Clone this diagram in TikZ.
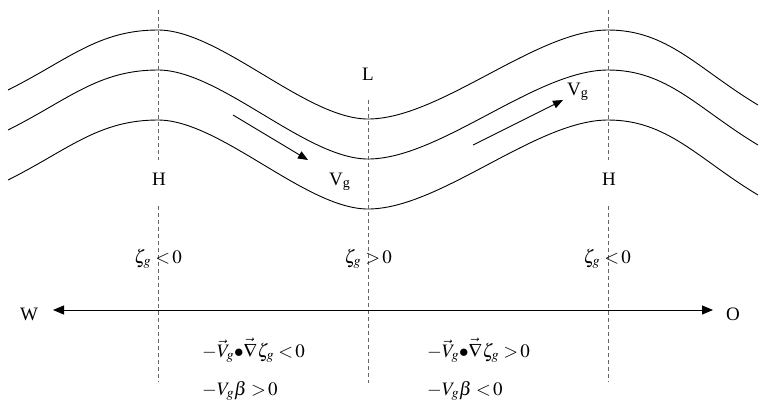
\documentclass[tikz,border=0pt]{standalone}
\usepackage{mathptmx}
\usepackage[no-math]{fontspec}
\setmainfont{Liberation Serif}
\usetikzlibrary{arrows.meta}
\tikzset{
  wave/.style={line width=0.9pt},
  guide/.style={draw=black!60, dash pattern=on 4pt off 3pt, line width=0.9pt},
  flow/.style={-{Triangle[length=10pt,width=8pt]}, line width=0.9pt},
  axis/.style={{Triangle[length=11pt,width=9pt]}-{Triangle[length=11pt,width=9pt]}, line width=0.9pt},
  lab/.style={font=\fontsize{19}{22}\selectfont, inner sep=0pt},
}
\begin{document}
\begin{tikzpicture}[x=1pt,y=-1pt]
\useasboundingbox (0,0) rectangle (767,416);
% streamlines
\foreach \dy in {0,40,90}{
  \begin{scope}[shift={(0,\dy)}]
  \draw[wave] (8,90) .. controls (68,60) and (98,30) .. (158,30)
     .. controls (220,30) and (306,119) .. (368,119)
     .. controls (440,119) and (536,30) .. (608,30)
     .. controls (668,30) and (698,69) .. (758,105);
  \end{scope}
}
% dashed guides
\coordinate (g1a) at (158,10);  \coordinate (g1b) at (158,160);
\coordinate (g1c) at (158,206); \coordinate (g1d) at (158,382);
\coordinate (g2a) at (368,100); \coordinate (g2b) at (368,383);
\coordinate (g3a) at (608,10);  \coordinate (g3b) at (608,160);
\coordinate (g3c) at (608,206); \coordinate (g3d) at (608,382);
\draw[guide] (g1a) -- (g1b) (g1c) -- (g1d);
\draw[guide] (g2a) -- (g2b);
\draw[guide] (g3a) -- (g3b) (g3c) -- (g3d);
% labels
\node[lab, anchor=base] (L) at (368,80) {L};
\node[lab, anchor=base] (H1) at (159,185) {H};
\node[lab, anchor=base] (H2) at (609,185) {H};
\node[lab, anchor=base west] (vg1) at (329,185) {V\textsubscript{g}};
\node[lab, anchor=base west] (vg2) at (567,95) {V\textsubscript{g}};
% flow arrows
\coordinate (f1s) at (233,115); \coordinate (f1e) at (308,160);
\coordinate (f2s) at (473,145); \coordinate (f2e) at (563,100);
\draw[flow] (f1s) -- (f1e);
\draw[flow] (f2s) -- (f2e);
% vorticity labels
\node[lab, anchor=base] (z1) at (158,263) {$\zeta_{g}\;{<}\,0$};
\node[lab, anchor=base] (z2) at (368,263) {$\zeta_{g}\;{>}\,0$};
\node[lab, anchor=base] (z3) at (607,263) {$\zeta_{g}\;{<}\,0$};
% axis
\node[lab] (W) at (29,314) {W};
\node[lab] (O) at (733,314) {O};
\coordinate (aw) at (53,310); \coordinate (ao) at (713,310);
\draw[axis] (aw) -- (ao);
% advection terms
\node[lab, anchor=base west] (a1) at (202,357) {$-\vec{V}_{g}{\bullet}\vec{\nabla}\zeta_{g}\;{<}\,0$};
\node[lab, anchor=base west] (b1) at (202,395) {$-V_{g}\beta\;{>}\,0$};
\node[lab, anchor=base west] (a2) at (427,357) {$-\vec{V}_{g}{\bullet}\vec{\nabla}\zeta_{g}\;{>}\,0$};
\node[lab, anchor=base west] (b2) at (427,395) {$-V_{g}\beta\;{<}\,0$};
\end{tikzpicture}
\end{document}
